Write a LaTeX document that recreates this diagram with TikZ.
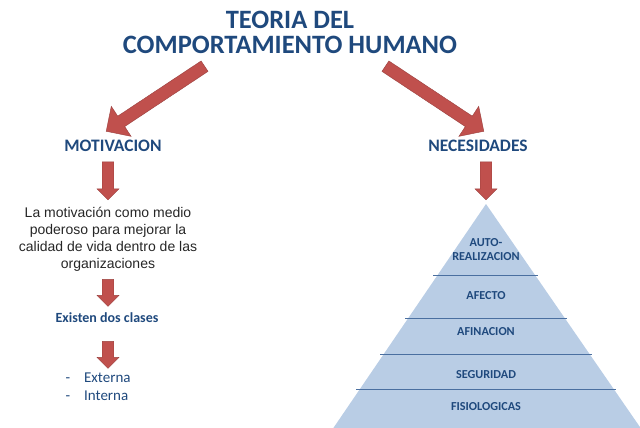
\documentclass[tikz,border=0pt]{standalone}
\usepackage{fontspec}
\setmainfont{Carlito}
\newfontfamily\arialf{Liberation Sans}
\usetikzlibrary{shapes.arrows}
\definecolor{tblue}{HTML}{1F497D}
\definecolor{ared}{HTML}{C0504D}
\definecolor{pyr}{HTML}{B9CDE5}
\definecolor{pline}{HTML}{4A6FA0}
\tikzset{
  lvl/.style={font=\bfseries\fontsize{12.2}{14}\selectfont, text=tblue, align=center},
  hdr/.style={font=\bfseries\fontsize{17.5}{20}\selectfont, text=tblue}
}
\begin{document}
\begin{tikzpicture}[x=1pt,y=-1pt]
\useasboundingbox (0,0) rectangle (640,428);
\node[font=\bfseries\fontsize{26.5}{25}\selectfont, text=tblue, align=center] (title) at (290,32) {TEORIA DEL\\COMPORTAMIENTO HUMANO};
% diagonal arrows
\node[single arrow, fill=ared, draw=ared!80!black, minimum height=118pt, minimum width=36pt, inner sep=3pt,
  single arrow head extend=6pt, rotate=-146.5] (a1) at (158,97) {};
\node[single arrow, fill=ared, draw=ared!80!black, minimum height=118pt, minimum width=36pt, inner sep=3pt,
  single arrow head extend=6pt, rotate=-33.5] (a2) at (432,97) {};
\node[hdr] (mot) at (113,146) {MOTIVACION};
\node[hdr] (nec) at (478,146) {NECESIDADES};
% down arrows
\foreach \n/\x/\y/\h in {d1/108/178/38, d2/486/178/38, d3/108/290/27, d4/108/352/27}{
  \node[single arrow, fill=ared, draw=ared!80!black, minimum height=\h pt, minimum width=22pt, inner sep=2pt,
    single arrow head extend=2pt, rotate=-90] (\n) at (\x,\y) {};
}
\node[font=\arialf\fontsize{14}{17}\selectfont, align=center, text=black!85] (para) at (108,239)
  {La motivación como medio\\poderoso para mejorar la\\calidad de vida dentro de las\\organizaciones};
\node[font=\bfseries\fontsize{14}{14}\selectfont, text=tblue] (ex) at (107,318) {Existen dos clases};
\node[font=\fontsize{15}{18}\selectfont, text=tblue, align=left, anchor=west] (list) at (62,387)
  {-\hspace{14pt}Externa\\-\hspace{14pt}Interna};
% pyramid
\fill[pyr] (486,204) coordinate (apex) -- (642,430) -- (332,430) -- cycle;
\foreach \y/\a/\b in {275/433/538, 318/405/567, 354/380/592, 389/356/616}{
  \draw[pline, line width=0.8pt] (\a,\y) -- (\b,\y);
}
\node[lvl] (l1) at (486,250) {AUTO-\\REALIZACION};
\node[lvl] (l2) at (486,296) {AFECTO};
\node[lvl] (l3) at (486,332) {AFINACION};
\node[lvl] (l4) at (486,375) {SEGURIDAD};
\node[lvl] (l5) at (486,407) {FISIOLOGICAS};
\end{tikzpicture}
\end{document}
